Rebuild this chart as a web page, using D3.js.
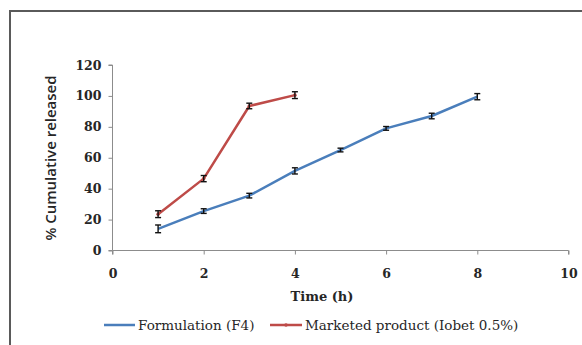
<!DOCTYPE html>
<html>
<head>
<meta charset="utf-8">
<script src="https://cdn.jsdelivr.net/npm/d3@7"></script>
<style>
  html, body { margin: 0; padding: 0; background: #fff; }
  svg { display: block; }
</style>
</head>
<body>
<svg id="chart" width="582" height="345"></svg>
<script>
// Release profile data (time in hours, % cumulative released, SD)
const timeF4 = [1, 2, 3, 4, 5, 6, 7, 8];
const releaseF4 = [14, 25.5, 35.5, 51.5, 65, 79, 87, 99.5];
const errF4 = [2.5, 1.5, 1.5, 2, 1.2, 1.2, 1.8, 2];

const timeMkt = [1, 2, 3, 4];
const releaseMkt = [23.5, 46.5, 93.5, 100.5];
const errMkt = [2.2, 2, 1.8, 2.2];

const xTicks = [0, 2, 4, 6, 8, 10];
const yTicks = [0, 20, 40, 60, 80, 100, 120];

const seriesNames = ["Formulation (F4)", "Marketed product (Iobet 0.5%)"];
const seriesColors = ["#4a7ebb", "#be4b48"];

const svg = d3.select("#chart");

// outer frame
svg.append("rect")
  .attr("x", 10).attr("y", 11)
  .attr("width", 600).attr("height", 400)
  .attr("fill", "none").attr("stroke", "#5a5a5a").attr("stroke-width", 2);

const x = d3.scaleLinear().domain([0, 10]).range([112.5, 568.5]);
const y = d3.scaleLinear().domain([0, 120]).range([250.5, 65]);

const tickFont = "DejaVu Serif, Liberation Serif, serif";

// y axis
const yAxis = svg.append("g")
  .attr("transform", `translate(${x(0)},0)`)
  .call(d3.axisLeft(y).tickValues(yTicks).tickSize(4).tickPadding(7));
// x axis
const xAxis = svg.append("g")
  .attr("transform", `translate(0,${y(0)})`)
  .call(d3.axisBottom(x).tickValues(xTicks).tickSize(4).tickPadding(15));

[yAxis, xAxis].forEach(g => {
  g.select(".domain").attr("stroke", "#8c8c8c");
  g.selectAll(".tick line").attr("stroke", "#8c8c8c");
  g.selectAll(".tick text")
    .attr("font-family", tickFont)
    .attr("font-weight", "bold")
    .attr("font-size", 12.5)
    .attr("fill", "#262626");
});
xAxis.select(".domain").attr("d", `M${x(0)},4V0H${x(10)}V4`);
yAxis.select(".domain").attr("d", `M-4,${y(120)}H0V${y(0)}H-4`);

// axis titles
svg.append("text")
  .attr("x", 322).attr("y", 301)
  .attr("text-anchor", "middle")
  .attr("font-family", tickFont)
  .attr("font-weight", "bold")
  .attr("font-size", 13)
  .attr("fill", "#262626")
  .text("Time (h)");

svg.append("text")
  .attr("transform", "translate(56,158) rotate(-90)")
  .attr("text-anchor", "middle")
  .attr("font-family", "Open Sans, Liberation Sans, sans-serif")
  .attr("font-weight", 600)
  .attr("font-size", 15)
  .attr("fill", "#262626")
  .text("% Cumulative released");

const line = d3.line().x(d => x(d[0])).y(d => y(d[1]));

function drawSeries(times, vals, errs, color, marker) {
  const pts = times.map((t, i) => [t, vals[i], errs[i]]);
  svg.append("path")
    .datum(pts)
    .attr("d", line)
    .attr("fill", "none")
    .attr("stroke", color)
    .attr("stroke-width", 2.5)
    .attr("stroke-linejoin", "round");
  if (marker) {
    svg.append("g").selectAll("circle").data(pts).join("circle")
      .attr("cx", d => x(d[0])).attr("cy", d => y(d[1]))
      .attr("r", 1.8).attr("fill", color);
  }
  const eb = svg.append("g").attr("stroke", "#111").attr("stroke-width", 1.4);
  eb.selectAll("line.v").data(pts).join("line").attr("class", "v")
    .attr("x1", d => x(d[0])).attr("x2", d => x(d[0]))
    .attr("y1", d => y(d[1] - d[2])).attr("y2", d => y(d[1] + d[2]));
  eb.selectAll("line.t").data(pts).join("line").attr("class", "t")
    .attr("x1", d => x(d[0]) - 3).attr("x2", d => x(d[0]) + 3)
    .attr("y1", d => y(d[1] + d[2])).attr("y2", d => y(d[1] + d[2]));
  eb.selectAll("line.b").data(pts).join("line").attr("class", "b")
    .attr("x1", d => x(d[0]) - 3).attr("x2", d => x(d[0]) + 3)
    .attr("y1", d => y(d[1] - d[2])).attr("y2", d => y(d[1] - d[2]));
}

drawSeries(timeF4, releaseF4, errF4, seriesColors[0], false);
drawSeries(timeMkt, releaseMkt, errMkt, seriesColors[1], true);

// legend
const legendFont = "DejaVu Serif, Liberation Serif, serif";
const legendY = 330;
const legendItems = [
  { x0: 104, x1: 135, tx: 138, marker: false },
  { x0: 270, x1: 302, tx: 305, marker: true }
];
legendItems.forEach((it, i) => {
  const g = svg.append("g");
  g.append("line")
    .attr("x1", it.x0).attr("x2", it.x1)
    .attr("y1", legendY - 5).attr("y2", legendY - 5)
    .attr("stroke", seriesColors[i]).attr("stroke-width", 2.5);
  if (it.marker) {
    g.append("circle").attr("cx", (it.x0 + it.x1) / 2).attr("cy", legendY - 5)
      .attr("r", 1.8).attr("fill", seriesColors[i]);
  }
  g.append("text")
    .attr("x", it.tx).attr("y", legendY)
    .attr("font-family", legendFont)
    .attr("font-size", 13.5)
    .attr("fill", "#262626")
    .text(seriesNames[i]);
});
</script>
</body>
</html>
